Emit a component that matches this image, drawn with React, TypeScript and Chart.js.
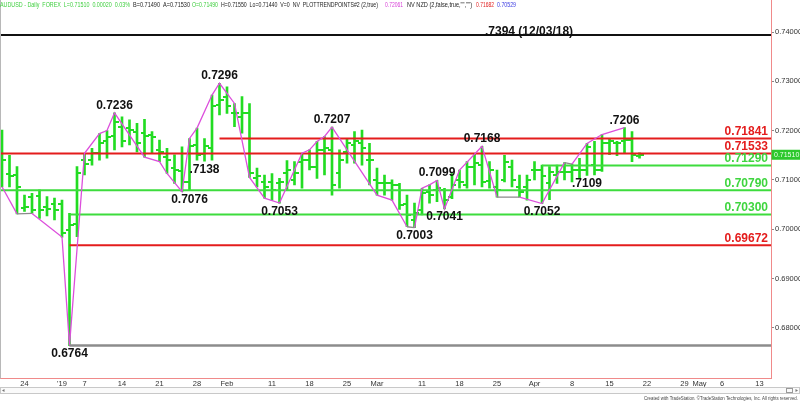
import React, { useEffect, useRef } from 'react';
import { Chart, registerables } from 'chart.js';
Chart.register(...registerables);

// ---------- DATA ----------
const dates = [
  '2018-12-19','2018-12-20','2018-12-21','2018-12-24','2018-12-26','2018-12-27','2018-12-28','2018-12-31',
  '2019-01-02','2019-01-03','2019-01-04','2019-01-07','2019-01-08','2019-01-09','2019-01-10','2019-01-11',
  '2019-01-14','2019-01-15','2019-01-16','2019-01-17','2019-01-18','2019-01-21','2019-01-22','2019-01-23',
  '2019-01-24','2019-01-25','2019-01-28','2019-01-29','2019-01-30','2019-01-31',
  '2019-02-01','2019-02-04','2019-02-05','2019-02-06','2019-02-07','2019-02-08','2019-02-11','2019-02-12',
  '2019-02-13','2019-02-14','2019-02-15','2019-02-18','2019-02-19','2019-02-20','2019-02-21','2019-02-22',
  '2019-02-25','2019-02-26','2019-02-27','2019-02-28',
  '2019-03-01','2019-03-04','2019-03-05','2019-03-06','2019-03-07','2019-03-08','2019-03-11','2019-03-12',
  '2019-03-13','2019-03-14','2019-03-15','2019-03-18','2019-03-19','2019-03-20','2019-03-21','2019-03-22',
  '2019-03-25','2019-03-26','2019-03-27','2019-03-28','2019-03-29',
  '2019-04-01','2019-04-02','2019-04-03','2019-04-04','2019-04-05','2019-04-08','2019-04-09','2019-04-10',
  '2019-04-11','2019-04-12','2019-04-15','2019-04-16','2019-04-17','2019-04-18','2019-04-19'
];

const opens = [
  0.7180,0.7112,0.7110,0.7042,0.7066,0.7067,0.7046,0.7052,
  0.7052,0.6998,0.7010,0.7140,0.7140,0.7154,0.7178,0.7190,
  0.7208,0.7205,0.7198,0.7195,0.7191,0.7161,0.7147,0.7124,
  0.7118,0.7095,0.7170,0.7152,0.7165,0.7252,
  0.7269,0.7235,0.7228,0.7235,0.7103,0.7096,0.7096,0.7093,
  0.7113,0.7100,0.7137,0.7140,0.7127,0.7161,0.7161,0.7113,
  0.7157,0.7170,0.7174,0.7140,
  0.7100,0.7093,0.7093,0.7089,0.7052,0.7019,0.7039,0.7076,
  0.7079,0.7079,0.7066,0.7100,0.7089,0.7127,0.7130,0.7098,
  0.7086,0.7100,0.7127,0.7086,0.7086,
  0.7120,0.7120,0.7093,0.7110,0.7117,0.7117,0.7120,0.7120,
  0.7130,0.7120,0.7174,0.7174,0.7178,0.7181,0.7149
];
const highs = [
  0.7201,0.7150,0.7127,0.7069,0.7073,0.7080,0.7066,0.7063,
  0.7059,0.7032,0.7127,0.7154,0.7164,0.7194,0.7200,0.7236,
  0.7228,0.7222,0.7215,0.7223,0.7198,0.7181,0.7164,0.7151,
  0.7167,0.7184,0.7205,0.7184,0.7272,0.7296,
  0.7289,0.7255,0.7269,0.7255,0.7124,0.7110,0.7113,0.7103,
  0.7139,0.7137,0.7154,0.7161,0.7178,0.7188,0.7207,0.7161,
  0.7184,0.7198,0.7201,0.7174,
  0.7124,0.7110,0.7100,0.7093,0.7069,0.7053,0.7083,0.7090,
  0.7099,0.7083,0.7113,0.7120,0.7137,0.7154,0.7168,0.7137,
  0.7120,0.7150,0.7140,0.7110,0.7110,
  0.7137,0.7130,0.7127,0.7130,0.7135,0.7132,0.7144,0.7174,
  0.7178,0.7192,0.7184,0.7178,0.7206,0.7198,0.7155
];
const lows = [
  0.7086,0.7086,0.7031,0.7036,0.7032,0.7022,0.7027,0.7019,
  0.6984,0.6764,0.6985,0.7110,0.7130,0.7140,0.7144,0.7161,
  0.7167,0.7171,0.7157,0.7146,0.7154,0.7137,0.7113,0.7093,
  0.7076,0.7080,0.7140,0.7138,0.7140,0.7232,
  0.7235,0.7208,0.7195,0.7105,0.7086,0.7063,0.7059,0.7053,
  0.7080,0.7090,0.7083,0.7120,0.7103,0.7110,0.7069,0.7083,
  0.7134,0.7134,0.7130,0.7090,
  0.7069,0.7069,0.7059,0.7040,0.7005,0.7003,0.7029,0.7053,
  0.7056,0.7041,0.7062,0.7083,0.7083,0.7090,0.7086,0.7083,
  0.7065,0.7096,0.7086,0.7065,0.7059,
  0.7100,0.7052,0.7060,0.7093,0.7100,0.7096,0.7103,0.7109,
  0.7110,0.7117,0.7151,0.7149,0.7154,0.7137,0.7144
];
const closes = [
  0.7140,0.7108,0.7086,0.7046,0.7039,0.7039,0.7040,0.7039,
  0.6992,0.7008,0.7115,0.7133,0.7154,0.7174,0.7188,0.7218,
  0.7178,0.7201,0.7174,0.7189,0.7188,0.7157,0.7140,0.7120,
  0.7095,0.7168,0.7150,0.7168,0.7250,0.7262,
  0.7249,0.7235,0.7235,0.7115,0.7107,0.7086,0.7080,0.7095,
  0.7120,0.7113,0.7140,0.7127,0.7161,0.7164,0.7090,0.7140,
  0.7174,0.7178,0.7164,0.7140,
  0.7093,0.7093,0.7089,0.7050,0.7029,0.7032,0.7073,0.7069,
  0.7083,0.7059,0.7089,0.7096,0.7127,0.7134,0.7095,0.7120,
  0.7079,0.7137,0.7100,0.7076,0.7100,
  0.7120,0.7107,0.7117,0.7117,0.7117,0.7120,0.7120,0.7167,
  0.7120,0.7174,0.7178,0.7174,0.7181,0.7151,0.7151
];

// swing (trend point) line vertices: bar index and price
const zzIdx = [0,2,4,8,9,11,13,14,15,19,21,22,24,25,26,28,29,31,33,35,37,40,41,42,43,44,50,52,54,55,56,57,58,59,61,64,66,69,72,75,76,78,80,83];
const zzVal = [0.7086,0.7031,0.7032,0.6984,0.6764,0.7154,0.7194,0.7200,0.7236,0.7146,0.7137,0.7113,0.7076,0.7184,0.7205,0.7272,0.7296,0.7255,0.7105,0.7063,0.7053,0.7154,0.7161,0.7178,0.7188,0.7207,0.7069,0.7059,0.7005,0.7003,0.7083,0.7090,0.7099,0.7041,0.7120,0.7168,0.7065,0.7065,0.7052,0.7135,0.7132,0.7174,0.7192,0.7206];

// pivot labels
const pivotIdx = [9,15,29,27,25,37,44,64,58,59,55,72,78,83];
const pivotVal = [0.6764,0.7236,0.7296,0.7138,0.7076,0.7053,0.7207,0.7168,0.7099,0.7041,0.7003,0.7052,0.7109,0.7206];
const pivotText = ['0.6764','0.7236','0.7296','.7138','0.7076','0.7053','0.7207','0.7168','0.7099','0.7041','0.7003','0.7052','.7109','.7206'];
const pivotAbove = [false,true,true,false,false,false,true,true,true,false,false,false,false,true];

// horizontal levels
const levelVals = [0.7394, 0.71841, 0.71533, 0.7129, 0.7079, 0.7030, 0.69672, 0.6764];
const levelStartIdx = [null, 29, null, 72, null, 9, 9, 9];
const levelKind = ['black','red','red','green','green','green','red','gray'];
const levelLabeled = [false,true,true,true,true,true,true,false];
const topLevelText = '.7394 (12/03/18)';

// axes
const xTickIdx = [3,8,11,16,21,26,30,36,41,46,50,56,61,66,71,76,81,86,91,93,96,101];
const xTickText = ['24',"'19",'7','14','21','28','Feb','11','18','25','Mar','11','18','25','Apr','8','15','22','29','May','6','13'];
const yTicks = [0.68,0.69,0.70,0.71,0.72,0.73,0.74];
const lastPrice = 0.7151;

const headerParts = [
  { t: 'AUDUSD - Daily  FOREX  L=0.71510  0.00020  0.03%', c: '#3fcf3f', x0: 0, x1: 130 },
  { t: 'B=0.71490  A=0.71530', c: '#222', x0: 133, x1: 190 },
  { t: 'O=0.71490', c: '#3fcf3f', x0: 192, x1: 218 },
  { t: 'H=0.71550  Lo=0.71440  V=0  NV  PLOTTRENDPOINTS#2 (2,true)', c: '#222', x0: 221, x1: 378 },
  { t: '0.72061', c: '#d63cd6', x0: 385, x1: 403 },
  { t: 'NV NZD (2,false,true,"","")', c: '#222', x0: 407, x1: 472 },
  { t: '0.71682', c: '#e02020', x0: 476, x1: 494 },
  { t: '0.70529', c: '#3a3ae0', x0: 497, x1: 516 },
];
const footerText = 'Created with TradeStation. \u00A9TradeStation Technologies, Inc. All rights reserved.';

// ---------- STYLE ----------
const GREEN_BAR = '#22dc22';
const GREEN_LINE = '#3ddc3d';
const GREEN_TXT = '#3fd53f';
const RED = '#e41c1c';
const MAGENTA = '#dc4fdc';
const AXIS_RED = '#f08a8a';
const X_MIN = -0.2667, X_MAX = 102.533;
const Y_MAX = 0.746491, Y_MIN = 0.669716;
const FONT = '"Liberation Sans", Arial, sans-serif';

const kindColor: Record<string, string> = { black: '#111', red: RED, green: GREEN_LINE, gray: '#8c8c8c' };

function fitText(ctx: CanvasRenderingContext2D, text: string, x0: number, x1: number, y: number, color: string, font: string) {
  ctx.save();
  ctx.font = font;
  const w = ctx.measureText(text).width;
  ctx.translate(x0, y);
  ctx.scale((x1 - x0) / w, 1);
  ctx.fillStyle = color;
  ctx.textAlign = 'left';
  ctx.textBaseline = 'middle';
  ctx.fillText(text, 0, 0);
  ctx.restore();
}

function tickCanvas(left: boolean) {
  const c = document.createElement('canvas');
  c.width = 8; c.height = 2;
  const g = c.getContext('2d')!;
  g.fillStyle = GREEN_BAR;
  g.fillRect(left ? 0 : 4, 0, 4, 2);
  return c;
}

export default function App() {
  const ref = useRef<HTMLCanvasElement>(null);
  useEffect(() => {
    document.body.style.margin = '0';
    const openImg = tickCanvas(true);
    const closeImg = tickCanvas(false);

    const levelSets = levelVals.map((v, k) => ({
      type: 'line' as const,
      data: [{ x: levelStartIdx[k] == null ? X_MIN : levelStartIdx[k], y: v }, { x: X_MAX, y: v }],
      borderColor: kindColor[levelKind[k]],
      borderWidth: levelKind[k] === 'gray' ? 2.5 : 2,
      pointRadius: 0,
      order: 2,
    }));

    const overlay = {
      id: 'overlay',
      afterDatasetsDraw(chart: any) {
        const { ctx, scales, chartArea } = chart;
        const xs = scales.x, ys = scales.y;
        ctx.save();
        // pivot labels
        ctx.font = `bold 12px ${FONT}`;
        ctx.fillStyle = '#111';
        ctx.textAlign = 'center';
        ctx.textBaseline = 'alphabetic';
        pivotIdx.forEach((pi, k) => {
          const px = xs.getPixelForValue(pi);
          const py = ys.getPixelForValue(pivotVal[k]);
          ctx.fillText(pivotText[k], px, pivotAbove[k] ? py - 4 : py + 11.5);
        });
        // level labels
        ctx.textAlign = 'right';
        levelVals.forEach((v, k) => {
          if (!levelLabeled[k]) return;
          ctx.fillStyle = levelKind[k] === 'red' ? RED : GREEN_TXT;
          ctx.fillText(v.toFixed(5), chartArea.right - 3, ys.getPixelForValue(v) - 3.5);
        });
        // top level label
        ctx.fillStyle = '#111';
        ctx.textAlign = 'left';
        ctx.fillText(topLevelText, xs.getPixelForValue(64.4), ys.getPixelForValue(levelVals[0]) + 0.5);
        ctx.restore();
      },
      afterDraw(chart: any) {
        const { ctx, scales, chartArea } = chart;
        const ys = scales.y;
        ctx.save();
        // left frame line
        ctx.strokeStyle = '#b8b8b8';
        ctx.lineWidth = 1;
        ctx.beginPath(); ctx.moveTo(0.5, 0); ctx.lineTo(0.5, chartArea.bottom); ctx.stroke();
        // last price box
        const py = ys.getPixelForValue(lastPrice);
        ctx.fillStyle = '#2cc82c';
        ctx.fillRect(chartArea.right + 0.5, py - 5, 29, 10);
        ctx.fillStyle = '#eaffea';
        ctx.font = `7px ${FONT}`;
        ctx.textAlign = 'left';
        ctx.textBaseline = 'middle';
        ctx.fillText(lastPrice.toFixed(5), chartArea.right + 3, py + 0.5);
        // header
        headerParts.forEach(p => fitText(ctx, p.t, p.x0, p.x1, 5, p.c, `7px ${FONT}`));
        // scrollbar
        ctx.strokeStyle = '#c8c8c8';
        ctx.fillStyle = '#fafafa';
        ctx.fillRect(0.5, 387.5, 799, 6);
        ctx.strokeRect(0.5, 387.5, 799, 6);
        ctx.fillStyle = '#777';
        ctx.beginPath(); ctx.moveTo(2, 390.5); ctx.lineTo(4.5, 389); ctx.lineTo(4.5, 392); ctx.fill();
        ctx.beginPath(); ctx.moveTo(798, 390.5); ctx.lineTo(795.5, 389); ctx.lineTo(795.5, 392); ctx.fill();
        ctx.strokeStyle = '#999';
        ctx.strokeRect(786.5, 388.5, 6, 4);
        // footer
        fitText(ctx, footerText, 644, 798, 398.5, '#444', `5px ${FONT}`);
        ctx.restore();
      },
    };

    const chart = new Chart(ref.current!, {
      type: 'bar',
      data: {
        datasets: [
          ...levelSets,
          {
            type: 'line',
            data: zzIdx.map((i, k) => ({ x: i, y: zzVal[k] })),
            borderColor: MAGENTA,
            borderWidth: 1.3,
            pointRadius: 0,
            segment: {
              borderColor: (c: any) =>
                Math.abs(c.p1.parsed.y - c.p0.parsed.y) / Math.max(1, c.p1.parsed.x - c.p0.parsed.x) < 0.0004 ? '#8a8a8a' : MAGENTA,
            },
            order: 1,
          },
          {
            type: 'line',
            data: dates.map((_, i) => ({ x: i, y: opens[i] })),
            showLine: false,
            pointStyle: openImg,
            pointRadius: 2,
            order: 4,
          },
          {
            type: 'line',
            data: dates.map((_, i) => ({ x: i, y: closes[i] })),
            showLine: false,
            pointStyle: closeImg,
            pointRadius: 2,
            order: 4,
          },
          {
            type: 'bar',
            data: dates.map((_, i) => ({ x: i, y: [lows[i], highs[i]] })),
            backgroundColor: GREEN_BAR,
            borderWidth: 0,
            barThickness: 2,
            order: 5,
          },
        ] as any,
      },
      options: {
        animation: false,
        responsive: false,
        maintainAspectRatio: false,
        events: [],
        layout: { padding: 0, autoPadding: false },
        plugins: { legend: { display: false }, tooltip: { enabled: false } },
        scales: {
          x: {
            type: 'linear',
            min: X_MIN,
            max: X_MAX,
            offset: false,
            grid: { display: false, drawTicks: false, offset: false },
            border: { display: true, color: AXIS_RED, width: 1 },
            ticks: {
              autoSkip: false,
              maxRotation: 0,
              padding: 1,
              color: '#333',
              font: { size: 7.5, family: FONT },
              callback: (v: any) => {
                const k = xTickIdx.indexOf(Number(v));
                return k >= 0 ? xTickText[k] : '';
              },
            },
            afterBuildTicks: (s: any) => { s.ticks = xTickIdx.map(v => ({ value: v })); },
            afterFit: (s: any) => { s.height = 23.5; s.paddingLeft = 0; s.paddingRight = 0; s.paddingTop = 0; s.paddingBottom = 0; },
          },
          y: {
            type: 'linear',
            position: 'right',
            min: Y_MIN,
            max: Y_MAX,
            grid: { display: true, drawOnChartArea: false, drawTicks: true, tickLength: 3, color: '#888' },
            border: { display: true, color: AXIS_RED, width: 1 },
            ticks: {
              padding: 1,
              color: '#333',
              font: { size: 7.5, family: FONT },
              callback: (v: any) => Number(v).toFixed(5),
            },
            afterBuildTicks: (s: any) => { s.ticks = yTicks.map(v => ({ value: v })); },
            afterFit: (s: any) => { s.width = 29; s.paddingLeft = 0; s.paddingRight = 0; s.paddingTop = 0; s.paddingBottom = 0; },
          },
        },
      } as any,
      plugins: [overlay],
    });
    return () => chart.destroy();
  }, []);

  return (
    <div style={{ position: 'fixed', left: 0, top: 0, width: 800, height: 402, background: '#fff' }}>
      <canvas ref={ref} width={800} height={402} style={{ width: 800, height: 402, display: 'block' }} />
    </div>
  );
}
